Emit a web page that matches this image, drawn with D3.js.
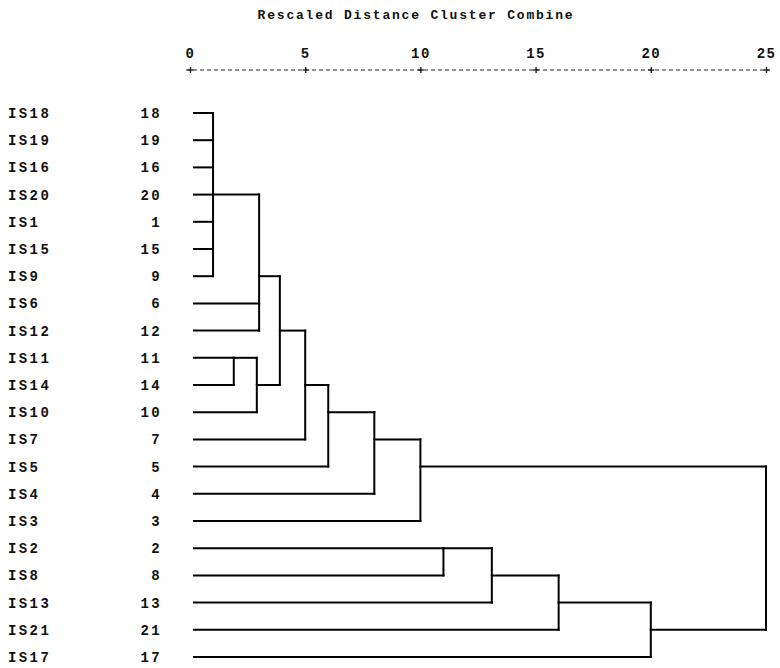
<!DOCTYPE html>
<html>
<head>
<meta charset="utf-8">
<script src="https://cdn.jsdelivr.net/npm/d3@7"></script>
<style>
  html, body { margin: 0; padding: 0; background: #fff; }
  svg { display: block; }
  text { font-family: "Liberation Mono", "DejaVu Sans Mono", monospace; font-weight: bold; fill: #111; }
</style>
</head>
<body>
<svg id="chart" width="780" height="668"></svg>
<script>
// ---------------- data ----------------
const title = "Rescaled Distance Cluster Combine";
const caseLabels = ["IS18","IS19","IS16","IS20","IS1","IS15","IS9","IS6","IS12","IS11","IS14","IS10","IS7","IS5","IS4","IS3","IS2","IS8","IS13","IS21","IS17"];
const caseNumbers = [18,19,16,20,1,15,9,6,12,11,14,10,7,5,4,3,2,8,13,21,17];
const tickValues = [0,5,10,15,20,25];
// merge steps: children are case numbers or earlier cluster ids; distance = rescaled distance
const mergeIds       = ["A","C","D","B","E","F","G","H","I","J","K","L","M","R"];
const mergeChildren  = [[18,19,16,20,1,15,9],[11,14],["C",10],["A",6,12],["B","D"],["E",7],["F",5],["G",4],["H",3],[2,8],["J",13],["K",21],["L",17],["I","M"]];
const mergeDistances = [1.0,1.9,2.9,3.0,3.9,5.0,6.0,8.0,10.0,11.0,13.1,16.0,20.0,25.0];

// ---------------- drawing ----------------
const svg = d3.select("#chart");
const x = d3.scaleLinear().domain([0,25]).range([190,766]);
const y = d3.scalePoint().domain(d3.range(caseLabels.length)).range([113,657]);

// title
svg.append("text")
  .attr("x", 416).attr("y", 14).attr("dy","0.35em")
  .attr("text-anchor","middle")
  .style("font-size","13px").style("letter-spacing","1.8px")
  .text(title);

// axis
const axisG = svg.append("g").attr("transform","translate(0,70)");
const axis = d3.axisTop(x).tickValues(tickValues).tickSize(0).tickPadding(12);
axisG.call(axis);
axisG.select(".domain").remove();
axisG.selectAll(".tick text")
  .style("font-size","14px").style("letter-spacing","1.4px")
  .attr("font-family", null).attr("fill","#111");
axisG.append("line")
  .attr("x1", x(0)-4).attr("x2", x(25)+4).attr("y1",0).attr("y2",0)
  .attr("stroke","#222").attr("stroke-width",1.2).attr("stroke-dasharray","4,3");
axisG.selectAll(".tick").append("line")
  .attr("x1",0).attr("x2",0).attr("y1",-3).attr("y2",3)
  .attr("stroke","#222").attr("stroke-width",1.4);
axisG.selectAll(".tick").append("line")
  .attr("x1",-3).attr("x2",3).attr("y1",0).attr("y2",0)
  .attr("stroke","#222").attr("stroke-width",1.4);

// row labels
const labelG = svg.append("g");
labelG.selectAll("text.name").data(caseLabels).join("text")
  .attr("class","name")
  .attr("x", 8).attr("y", (d,i) => y(i)).attr("dy","0.35em")
  .style("font-size","14px").style("letter-spacing","2.4px")
  .text(d => d);
labelG.selectAll("text.num").data(caseNumbers).join("text")
  .attr("class","num")
  .attr("x", 162).attr("y", (d,i) => y(i)).attr("dy","0.35em")
  .attr("text-anchor","end")
  .style("font-size","14px").style("letter-spacing","2.4px")
  .text(d => d);

// build node positions
const nodes = new Map();
caseNumbers.forEach((c,i) => nodes.set(c, {row: i, x: x(0)+4}));
const lines = [];
mergeIds.forEach((id, k) => {
  const kids = mergeChildren[k].map(c => nodes.get(c));
  const xm = x(mergeDistances[k]);
  kids.forEach(n => lines.push({x1: n.x, x2: xm, y1: y(n.row), y2: y(n.row)}));
  const rows = kids.map(n => n.row);
  lines.push({x1: xm, x2: xm, y1: y(d3.min(rows)), y2: y(d3.max(rows))});
  nodes.set(id, {row: Math.floor(d3.mean(rows)), x: xm});
});

svg.append("g").selectAll("line").data(lines).join("line")
  .attr("x1", d => d.x1).attr("x2", d => d.x2)
  .attr("y1", d => d.y1).attr("y2", d => d.y2)
  .attr("stroke","#000").attr("stroke-width",2).attr("stroke-linecap","square");
</script>
</body>
</html>
